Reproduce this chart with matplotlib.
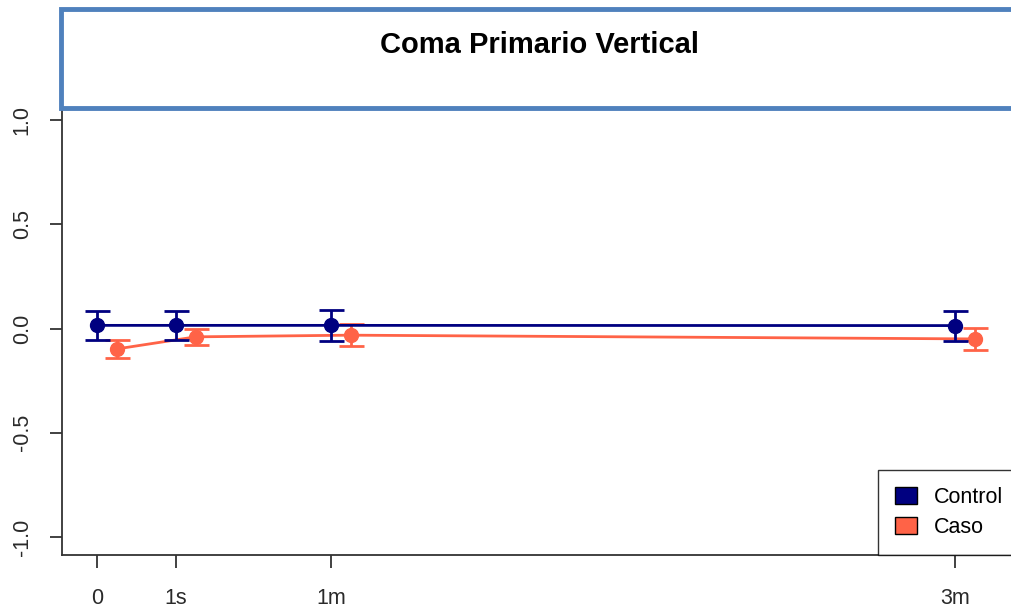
"""Coma primario vertical: control vs caso over follow-up visits."""

import matplotlib.pyplot as plt
from matplotlib.patches import Patch, Rectangle

plt.rcParams["font.family"] = ["Liberation Sans", "DejaVu Sans"]

# visit labels and their positions on the time axis
visits = ["0", "1s", "1m", "3m"]
visit_pos = [0.0, 1.0, 2.96, 10.86]
caso_shift = 0.25

control_mean = [0.015, 0.015, 0.015, 0.014]
control_err = [0.070, 0.070, 0.075, 0.072]
caso_mean = [-0.098, -0.040, -0.032, -0.050]
caso_err = [0.044, 0.040, 0.052, 0.053]

y_ticks = [-1.0, -0.5, 0.0, 0.5, 1.0]

CONTROL = "#000080"
CASO = "#FF6347"
AXIS = "#333333"

W, H = 1011, 612
fig = plt.figure(figsize=(W / 100, H / 100), dpi=100)
ax = fig.add_axes([62 / W, (H - 555) / H, (1100 - 62) / W, (555 - 102) / H])

caso_pos = [p + caso_shift for p in visit_pos]
ax.errorbar(visit_pos, control_mean, yerr=control_err, color=CONTROL, lw=2,
            marker="o", ms=10, capsize=9, capthick=2, elinewidth=2, zorder=3)
ax.errorbar(caso_pos, caso_mean, yerr=caso_err, color=CASO, lw=2,
            marker="o", ms=10, capsize=9, capthick=2, elinewidth=2, zorder=2)

ax.set_xlim(-35 / 79, (1100 - 97) / 79)
ax.set_ylim(-1.086, 1.086)
ax.set_xticks(visit_pos)
ax.set_xticklabels(visits)
ax.set_yticks(y_ticks)
ax.set_yticklabels([f"{v:.1f}" for v in y_ticks], rotation=90, va="center")

for side in ("top", "right"):
    ax.spines[side].set_visible(False)
for side in ("left", "bottom"):
    ax.spines[side].set_color(AXIS)
    ax.spines[side].set_linewidth(1.3)
ax.tick_params(axis="both", length=9, width=1.3, color=AXIS, labelsize=15.5,
               labelcolor="#2a2a2a")
ax.tick_params(axis="x", pad=15)
ax.tick_params(axis="y", pad=12)

handles = [Patch(facecolor=CONTROL, edgecolor="black", lw=1),
           Patch(facecolor=CASO, edgecolor="black", lw=1)]
leg = fig.legend(handles, ["Control", "Caso"], loc="lower left",
                 bbox_to_anchor=(878 / W, (H - 555) / H), borderaxespad=0,
                 fontsize=15.5, frameon=True, fancybox=False, handlelength=1.0,
                 handleheight=0.8, handletextpad=0.8, borderpad=0.8,
                 labelspacing=0.4)
leg.get_frame().set_edgecolor("black")
leg.get_frame().set_linewidth(1)

# header band with the title
fig.add_artist(Rectangle((61 / W, (H - 107.5) / H), 1.0, 98.5 / H,
                         transform=fig.transFigure, facecolor="white",
                         edgecolor="#4F81BD", lw=3.5, zorder=5))
fig.text(540 / W, 1 - 45 / H, "Coma Primario Vertical", ha="center",
         va="center", fontsize=21, fontweight="bold", zorder=6)

fig.savefig("out.png", dpi=100)
